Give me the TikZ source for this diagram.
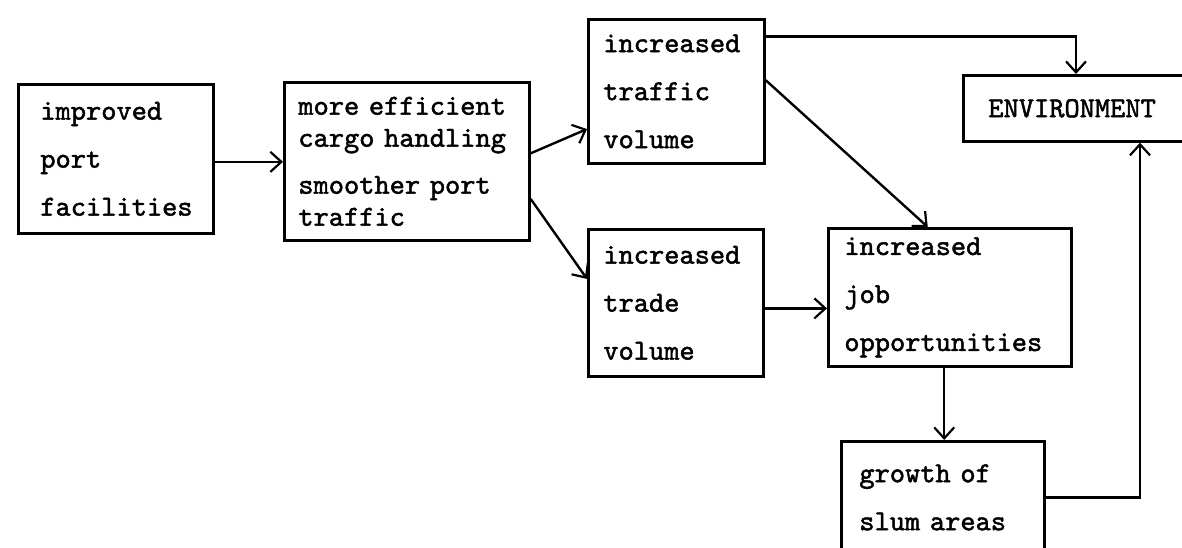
\documentclass[tikz,border=0pt]{standalone}
\usepackage{fontspec}
\newfontfamily\typewriter{lmmono10-regular.otf}[FakeBold=1.6, WordSpace={1,0,0}, PunctuationSpace=WordSpace]
\usetikzlibrary{arrows.meta,calc}

\tikzset{
  box/.style={draw, line width=2.7pt, anchor=north west, align=left,
    inner ysep=0pt, font=\typewriter\fontsize{29}{48}\selectfont},
  link/.style={line width=2.4pt, -{Straight Barb[length=11pt,width=20pt,line width=2.2pt]}},
}

\begin{document}
\begin{tikzpicture}[x=1pt, y=-1pt]
  \useasboundingbox (0,0) rectangle (1182,548);
  \clip (0,0) rectangle (1182,548);

  % boxes
  \node[box, inner xsep=22pt, text width=151pt, minimum height=149pt] (port) at (17,83)
    {improved\\port\\facilities};
  \node[box, inner xsep=14pt, text width=217pt, minimum height=158pt,
        font=\typewriter\fontsize{29}{32}\selectfont] (cargo) at (283,81)
    {more efficient\\cargo handling\\[15pt]smoother port\\traffic};
  \node[box, inner xsep=15pt, text width=146pt, minimum height=144pt] (traffic) at (587,18)
    {increased\\traffic\\volume};
  \node[box, inner xsep=15pt, text width=145pt, minimum height=147pt] (trade) at (587,228)
    {increased\\trade\\volume};
  \node[box, inner xsep=16pt, text width=211pt, minimum height=138pt] (jobs) at (827,227)
    {increased\\job\\opportunities};
  \node[box, inner xsep=25pt, text width=190pt, minimum height=66pt] (env) at (962,74)
    {ENVIRONMENT};
  \node[box, inner xsep=18pt, text width=167pt, minimum height=112pt] (slum) at (840,440)
    {growth of\\slum areas};

  % connection points along the box edges
  \coordinate (cargoA) at ($(cargo.north east)!0.45!(cargo.south east)$);
  \coordinate (cargoB) at ($(cargo.north east)!0.734!(cargo.south east)$);
  \coordinate (trafficIn) at ($(traffic.north west)!0.757!(traffic.south west)$);
  \coordinate (tradeIn) at ($(trade.north west)!0.34!(trade.south west)$);
  \coordinate (trafficTop) at ($(traffic.north east)!0.125!(traffic.south east)$);
  \coordinate (trafficMid) at ($(traffic.north east)!0.424!(traffic.south east)$);
  \coordinate (tradeOut) at ($(trade.north east)!0.537!(trade.south east)$);
  \coordinate (jobsTop) at ($(jobs.north west)!0.41!(jobs.north east)$);
  \coordinate (jobsBottom) at ($(jobs.south west)!0.477!(jobs.south east)$);
  \coordinate (envTop) at ([xshift=114pt]env.north west);
  \coordinate (envBottom) at ([xshift=178pt]env.south west);

  % connectors
  \draw[link] ([yshift=-3pt]port.east) -- ([yshift=-3pt]port.east -| cargo.west);
  \draw[link] (cargoA) -- (trafficIn);
  \draw[link] (cargoB) -- (tradeIn);
  \draw[link] (trafficTop) -| (envTop);
  \draw[link] (trafficMid) -- (jobsTop);
  \draw[link] (tradeOut) -- (tradeOut -| jobs.west);
  \draw[link] (jobsBottom) -- (jobsBottom |- slum.north);
  \draw[link] (slum.east) -| (envBottom);
\end{tikzpicture}
\end{document}
